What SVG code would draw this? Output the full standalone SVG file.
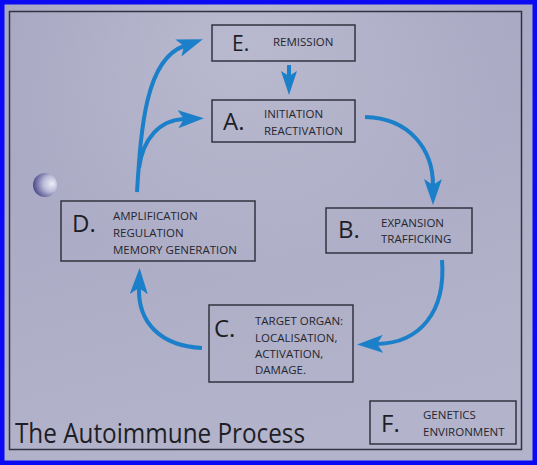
<svg xmlns="http://www.w3.org/2000/svg" width="537" height="465" viewBox="0 0 537 465">
<defs>
<linearGradient id="bg" x1="0" y1="0" x2="0.3" y2="1">
<stop offset="0" stop-color="#a6a6c2"/>
<stop offset="0.5" stop-color="#acacc6"/>
<stop offset="1" stop-color="#b3b3cb"/>
</linearGradient>
<radialGradient id="glow" cx="0.45" cy="0.1" r="0.5">
<stop offset="0" stop-color="#c4c4d6" stop-opacity="0.6"/>
<stop offset="1" stop-color="#c4c4d6" stop-opacity="0"/>
</radialGradient>
<radialGradient id="sphere" cx="0.7" cy="0.45" r="0.75" fx="0.8" fy="0.45">
<stop offset="0" stop-color="#eeeef8"/>
<stop offset="0.45" stop-color="#b8b8d8"/>
<stop offset="1" stop-color="#3c3c80"/>
</radialGradient>
<marker id="arr" viewBox="0 0 26 18" refX="6" refY="9" markerWidth="26" markerHeight="18" markerUnits="userSpaceOnUse" orient="auto">
<path d="M0,0 L26,9 L0,18 L6,9 Z" fill="#1b7fc9"/>
</marker>
<marker id="arrs" viewBox="0 0 24 16" refX="5" refY="8" markerWidth="24" markerHeight="16" markerUnits="userSpaceOnUse" orient="auto">
<path d="M0,0 L24,8 L0,16 L5,8 Z" fill="#1b7fc9"/>
</marker>
</defs>
<style>
.box{fill:none;stroke:#333340;stroke-width:1.5}
.big{font-family:"Open Sans","Liberation Sans",sans-serif;font-size:24px;fill:#1e1e26}
.lab{font-family:"Open Sans","Liberation Sans",sans-serif;font-size:11.5px;fill:#26262e}
.con{fill:none;stroke:#1b7fc9;stroke-width:4;stroke-linecap:butt}
</style>
<rect x="0" y="0" width="537" height="465" fill="url(#bg)"/>
<rect x="0" y="0" width="537" height="465" fill="url(#glow)"/>
<rect x="2" y="2" width="533" height="461" fill="none" stroke="#0a0af5" stroke-width="5"/>
<rect x="9.5" y="11.5" width="512" height="438" fill="none" stroke="#333340" stroke-width="1.5"/>
<circle cx="45" cy="185" r="12" fill="url(#sphere)"/>
<g id="connectors">
<path class="con" d="M137,192 C141,130 145,60 184,46" marker-end="url(#arr)"/>
<path class="con" d="M139,168 C143,138 160,120 184,119" marker-end="url(#arr)"/>
<path class="con" d="M289,65 L289,76" marker-end="url(#arrs)"/>
<path class="con" d="M365,117 C410,118 433,150 433,185" marker-end="url(#arr)"/>
<path class="con" d="M442,260 C446,312 420,343 377,344" marker-end="url(#arr)"/>
<path class="con" d="M202,348 C160,346 138,322 139,288" marker-end="url(#arr)"/>
</g>
<g id="node-E">
<rect class="box" x="212" y="25" width="143" height="36"/>
<text class="big" x="232" y="51" style="font-size:21px">E.</text>
<text class="lab" x="273" y="46">REMISSION</text>
</g>
<g id="node-A">
<rect class="box" x="212" y="100" width="143" height="42"/>
<text class="big" x="223" y="130">A.</text>
<text class="lab" x="264" y="118">INITIATION</text>
<text class="lab" x="264" y="135">REACTIVATION</text>
</g>
<g id="node-B">
<rect class="box" x="326" y="208" width="146" height="45"/>
<text class="big" x="338" y="238">B.</text>
<text class="lab" x="381" y="227">EXPANSION</text>
<text class="lab" x="381" y="243">TRAFFICKING</text>
</g>
<g id="node-D">
<rect class="box" x="61" y="201" width="194" height="60"/>
<text class="big" x="72" y="232">D.</text>
<text class="lab" x="113" y="220">AMPLIFICATION</text>
<text class="lab" x="113" y="237">REGULATION</text>
<text class="lab" x="113" y="254">MEMORY GENERATION</text>
</g>
<g id="node-C">
<rect class="box" x="209" y="305" width="144" height="77"/>
<text class="big" x="214" y="337">C.</text>
<text class="lab" x="255" y="325">TARGET ORGAN:</text>
<text class="lab" x="255" y="342">LOCALISATION,</text>
<text class="lab" x="255" y="358">ACTIVATION,</text>
<text class="lab" x="255" y="374">DAMAGE.</text>
</g>
<g id="node-F">
<rect class="box" x="370" y="401" width="146" height="43"/>
<text class="big" x="381" y="432">F.</text>
<text class="lab" x="423" y="419">GENETICS</text>
<text class="lab" x="423" y="436">ENVIRONMENT</text>
</g>
<g id="title">
<text x="15" y="443" font-family="'Open Sans','Liberation Sans',sans-serif" font-size="27" fill="#1e1e26" textLength="290" lengthAdjust="spacingAndGlyphs">The Autoimmune Process</text>
</g>
</svg>
